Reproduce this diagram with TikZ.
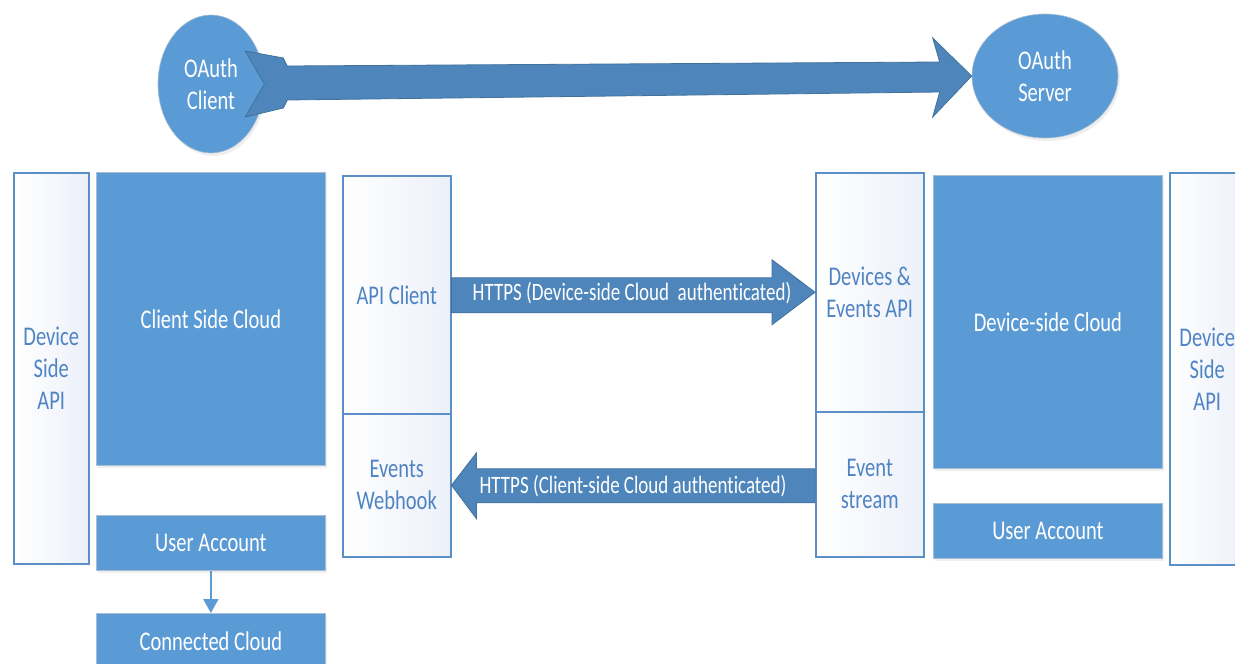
\documentclass[tikz,border=0pt]{standalone}
\usepackage{fontspec}
\setmainfont[FakeStretch=0.76, Ligatures={NoCommon,NoRequired,NoContextual}]{Carlito}
\usetikzlibrary{shapes.geometric,calc,arrows.meta,shadows}
\definecolor{boxblue}{HTML}{5B9BD5}
\definecolor{arrowblue}{HTML}{4E86BB}
\definecolor{arrowedge}{HTML}{41719C}
\definecolor{lineblue}{HTML}{5B8FC8}
\definecolor{txtblue}{HTML}{4F84C4}
\definecolor{lightfill}{HTML}{ECF0F9}
\definecolor{boxedge}{HTML}{A8BCD4}
\tikzset{
  bigfont/.style={font=\fontsize{27}{32}\selectfont},
  softshadow/.style={drop shadow={opacity=0.12, shadow xshift=2pt, shadow yshift=-3pt}},
  bluebox/.style={rectangle, anchor=north west, fill=boxblue, draw=boxedge, line width=0.8pt,
    text=white, inner sep=0pt, align=center, bigfont, softshadow},
  lightbox/.style={rectangle, anchor=north west, shading=axis, shading angle=135,
    left color=white, right color=lightfill,
    draw=lineblue, line width=1.5pt, text=txtblue, inner sep=0pt, align=center, bigfont},
  oval/.style={ellipse, fill=boxblue, draw=boxedge, line width=0.6pt, text=white, inner sep=0pt,
    align=center, bigfont, softshadow},
  blockarrow/.style={fill=arrowblue, draw=arrowedge, line width=0.8pt, line join=miter},
  arrowlabel/.style={text=white, font=\fontsize{25}{30}\selectfont, inner sep=0pt},
  smallarrow/.style={draw=boxblue, line width=2pt, -{Triangle[width=15pt,length=14pt]}}
}
\begin{document}
\begin{tikzpicture}[x=1pt,y=1pt]
\clip (0,0) rectangle (1235,-664);
\fill[white] (0,0) rectangle (1235,-664);

% left side
\node[lightbox, minimum width=75pt, minimum height=391pt] (dsapiL) at (13,-172) {Device\\Side\\API};
\node[bluebox, minimum width=229pt, minimum height=293pt] (cscloud) at (96,-172) {Client Side Cloud};
\node[bluebox, minimum width=229pt, minimum height=55pt] (uaL) at (96,-515) {User Account};
\node[bluebox, minimum width=229pt, minimum height=55pt] (ccloud) at (96,-613) {Connected Cloud};
\draw[smallarrow] (uaL.south) -- (ccloud.north);

% middle columns
\node[lightbox, minimum width=108pt, minimum height=238pt] (apicl) at (342,-175) {API Client};
\node[lightbox, minimum width=108pt, minimum height=143pt] (webhook) at (342,-413) {Events\\Webhook};
\node[lightbox, minimum width=108pt, minimum height=239pt] (devapi) at (815,-172) {Devices \&\\Events API};
\node[lightbox, minimum width=108pt, minimum height=145pt] (evstream) at (815,-411) {Event\\stream};

% right side
\node[bluebox, minimum width=229pt, minimum height=293pt] (dscloud) at (933,-175) {Device-side Cloud};
\node[bluebox, minimum width=229pt, minimum height=55pt] (uaR) at (933,-503) {User Account};
\node[lightbox, minimum width=75pt, minimum height=392pt] (dsapiR) at (1169,-172) {Device\\Side\\API};

% OAuth
\node[oval, minimum width=106pt, minimum height=138pt] (client) at (211,-84) {OAuth\\Client};
\node[oval, minimum width=146pt, minimum height=124pt] (server) at (1045,-76) {OAuth\\Server};

\draw[blockarrow]
  (client.east)
  -- ($(client.east)+(-19,33)$)
  -- ($(client.east)+(19,26)$)
  -- ($(client.east)+(23,18)$)
  -- ($(server.west)+(-32,14)$)
  -- ($(server.west)+(-39,38)$)
  -- (server.west)
  -- ($(server.west)+(-39,-41)$)
  -- ($(server.west)+(-32,-16)$)
  -- ($(client.east)+(23,-16)$)
  -- ($(client.east)+(19,-24)$)
  -- ($(client.east)+(-19,-33)$)
  -- cycle;

% HTTPS arrows
\draw[blockarrow]
  ($(apicl.east)+(0,17)$)
  -- ($(devapi.west)+(-43,14.5)$)
  -- ($(devapi.west)+(-43,32.5)$)
  -- (devapi.west)
  -- ($(devapi.west)+(-43,-32.5)$)
  -- ($(devapi.west)+(-43,-20.5)$)
  -- ($(apicl.east)+(0,-18)$)
  -- cycle;
\node[arrowlabel] (lbl1) at (632,-293) {HTTPS (Device-side Cloud~ authenticated)};

\draw[blockarrow]
  ($(evstream.west)+(0,15.5)$)
  -- ($(webhook.east)+(25,16.5)$)
  -- ($(webhook.east)+(25,32.5)$)
  -- (webhook.east)
  -- ($(webhook.east)+(25,-33.5)$)
  -- ($(webhook.east)+(25,-17.5)$)
  -- ($(evstream.west)+(0,-18.5)$)
  -- cycle;
\node[arrowlabel] (lbl2) at (633,-486) {HTTPS (Client-side Cloud authenticated)};
\end{tikzpicture}
\end{document}
